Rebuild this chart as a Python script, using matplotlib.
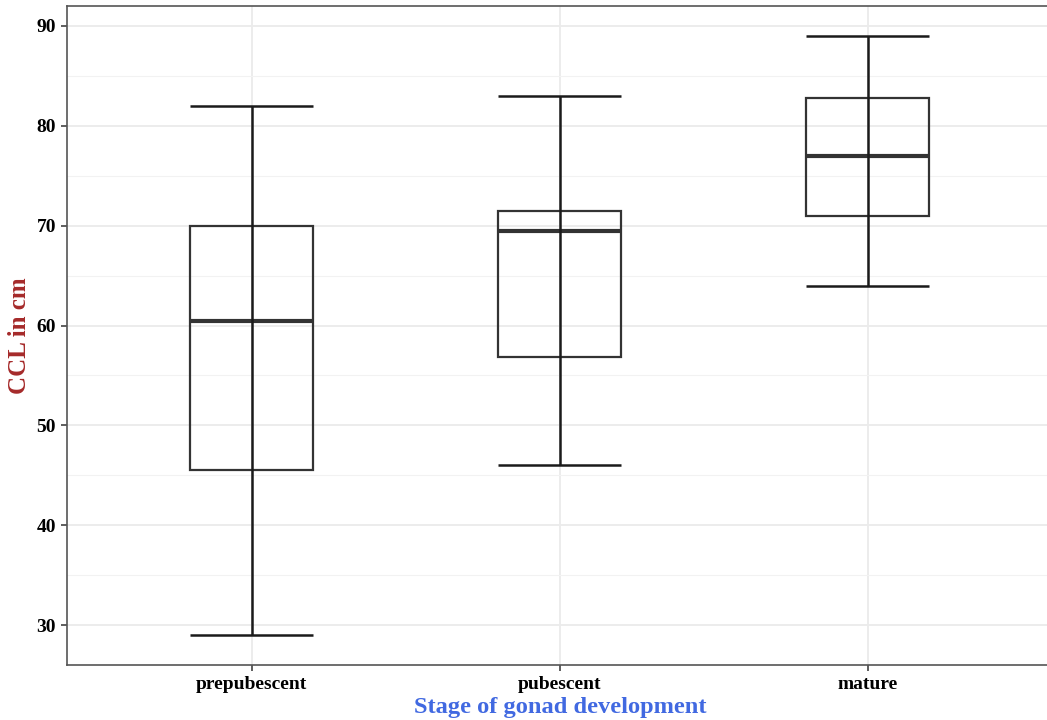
"""Boxplot of CCL by stage of gonad development (ggplot theme_bw look)."""
import matplotlib
matplotlib.use("Agg")
import matplotlib.pyplot as plt
from matplotlib.ticker import MultipleLocator

stages = ["prepubescent", "pubescent", "mature"]
whisker_low = [29.0, 46.0, 64.0]
q1 = [45.5, 56.8, 71.0]
median = [60.5, 69.5, 77.0]
q3 = [70.0, 71.5, 82.8]
whisker_high = [82.0, 83.0, 89.0]

plt.rcParams["font.family"] = ["Liberation Serif", "DejaVu Serif"]
plt.rcParams["font.weight"] = "bold"

fig = plt.figure(figsize=(10.47, 7.2), dpi=100)
ax = fig.add_axes([67 / 1047, 55 / 720, 985.6 / 1047, 659 / 720])

pos = list(range(1, len(stages) + 1))
width = 0.40

stats = [
    {"med": m, "q1": a, "q3": b, "whislo": a, "whishi": b, "fliers": [], "label": s}
    for s, a, m, b in zip(stages, q1, median, q3)
]
ax.bxp(stats, positions=pos, widths=width, showcaps=False, showfliers=False,
       patch_artist=True,
       boxprops=dict(facecolor="none", edgecolor="#333333", linewidth=1.6),
       medianprops=dict(color="#333333", linewidth=3.0),
       whiskerprops=dict(linewidth=0), zorder=3)

# errorbar-style whiskers through the box
ax.vlines(pos, whisker_low, whisker_high, color="#1a1a1a", linewidth=1.8, zorder=4)
ax.hlines(whisker_low, [p - width / 2 for p in pos], [p + width / 2 for p in pos],
          color="#1a1a1a", linewidth=1.8, zorder=4)
ax.hlines(whisker_high, [p - width / 2 for p in pos], [p + width / 2 for p in pos],
          color="#1a1a1a", linewidth=1.8, zorder=4)

ax.set_xlim(0.4, 3.6)
ax.set_ylim(26.0, 92.0)
ax.yaxis.set_major_locator(MultipleLocator(10))
ax.yaxis.set_minor_locator(MultipleLocator(5))
ax.set_xticks(pos)
ax.set_xticklabels(stages)

ax.set_axisbelow(True)
ax.grid(which="major", color="#EBEBEB", linewidth=1.3)
ax.grid(which="minor", axis="y", color="#F2F2F2", linewidth=0.8)
for sp in ax.spines.values():
    sp.set_color("#555555")
    sp.set_linewidth(1.2)
ax.tick_params(which="major", length=4, width=1.1, color="#333333",
               labelsize=14, labelcolor="black", pad=4)
ax.tick_params(which="minor", length=0)

ax.set_xlabel("Stage of gonad development", color="#4169E1", fontsize=17.6,
              fontweight="bold", labelpad=3)
ax.set_ylabel("CCL in cm", color="#A52A2A", fontsize=18, fontweight="bold",
              labelpad=4)

fig.savefig("out.png", dpi=100)
